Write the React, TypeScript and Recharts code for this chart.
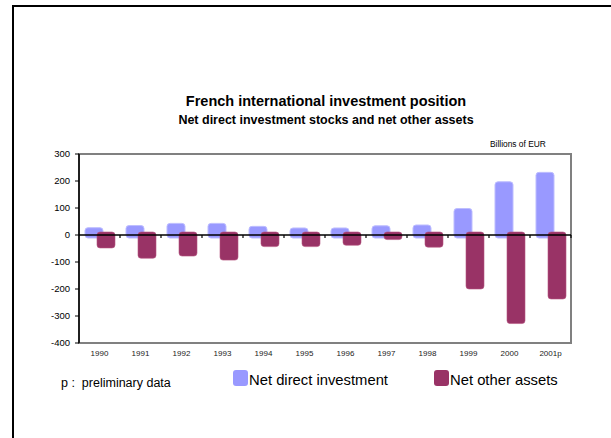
import React from 'react';
import { BarChart, Bar, XAxis, YAxis, ReferenceLine, ReferenceArea } from 'recharts';

const CATEGORIES = ['1990', '1991', '1992', '1993', '1994', '1995', '1996', '1997', '1998', '1999', '2000', '2001p'];
const NET_DIRECT = [27, 35, 43, 43, 32, 26, 26, 34, 37, 98, 197, 232];
const NET_OTHER = [-48, -86, -78, -93, -43, -43, -38, -17, -45, -200, -328, -237];
const Y_TICKS = [-400, -300, -200, -100, 0, 100, 200, 300];

const LIGHT = '#9999ff';
const MAROON = '#993366';
const FONT = '"Liberation Sans", Arial, sans-serif';

const data = CATEGORIES.map((year, i) => ({
  year,
  direct: NET_DIRECT[i],
  other: NET_OTHER[i],
}));

// bars poke a few px past the zero line, like the old Excel look
const DirectBar = (props: any) => {
  const { x, y, width, height } = props;
  const top = Math.min(y, y + height);
  const bottom = Math.max(y, y + height) + 3;
  return <rect x={x} y={top} width={width} height={bottom - top} rx={3} fill={LIGHT} stroke="#bdbdff" strokeWidth={1} />;
};

const OtherBar = (props: any) => {
  const { x, y, width, height } = props;
  const top = Math.min(y, y + height) - 3;
  const bottom = Math.max(y, y + height);
  return <rect x={x} y={top} width={width} height={bottom - top} rx={3} fill={MAROON} stroke="#b5557f" strokeWidth={0.6} />;
};

// zero line with small category ticks hanging below it
const ZeroLine = (props: any) => {
  const { x1, y1, x2 } = props;
  const step = (x2 - x1) / CATEGORIES.length;
  return (
    <g>
      <line x1={x1} y1={y1} x2={x2} y2={y1} stroke="#000" strokeWidth={1.5} />
      {CATEGORIES.map((c, i) => (
        <line key={c} x1={x1 + step * (i + 1)} y1={y1} x2={x1 + step * (i + 1)} y2={y1 + 3} stroke="#000" strokeWidth={1.2} />
      ))}
    </g>
  );
};

export default function App() {
  return (
    <div style={{ position: 'absolute', left: 0, top: 0, width: 611, height: 438, overflow: 'hidden', background: '#fff', fontFamily: FONT }}>
      <div style={{ position: 'absolute', left: 12, top: 5, width: 620, height: 450, borderLeft: '2px solid #000', borderTop: '2px solid #000' }} />

      <div style={{ position: 'absolute', left: 0, width: 652, top: 92, lineHeight: '18px', fontSize: 14.5, fontWeight: 'bold', textAlign: 'center', color: '#000' }}>
        French international investment position
      </div>
      <div style={{ position: 'absolute', left: 0, width: 652, top: 112, lineHeight: '16px', fontSize: 12.5, fontWeight: 'bold', textAlign: 'center', color: '#000' }}>
        Net direct investment stocks and net other assets
      </div>
      <div style={{ position: 'absolute', left: 490, top: 139, lineHeight: '10px', fontSize: 8.4, color: '#000' }}>
        Billions of EUR
      </div>

      <div style={{ position: 'absolute', left: 0, top: 0 }}>
        <BarChart
          width={611}
          height={438}
          data={data}
          margin={{ top: 154, right: 40, bottom: 65, left: 0 }}
          barSize={18}
          barGap={-6}
        >
          <ReferenceArea y1={-400} y2={300} fill="none" stroke="#808080" strokeWidth={2} ifOverflow="visible" />
          <XAxis
            dataKey="year"
            height={30}
            axisLine={false}
            tickLine={false}
            tickSize={0}
            tickMargin={7}
            interval={0}
            tick={{ fontSize: 8, fill: '#222', fontFamily: FONT }}
          />
          <YAxis
            width={79}
            domain={[-400, 300]}
            ticks={Y_TICKS}
            interval={0}
            axisLine={{ stroke: '#000', strokeWidth: 1.5 }}
            tickLine={{ stroke: '#000' }}
            tickSize={4}
            tickMargin={5}
            tick={{ fontSize: 9.5, fill: '#000', fontFamily: FONT }}
          />
          <Bar dataKey="direct" name="Net direct investment" fill={LIGHT} shape={DirectBar} isAnimationActive={false} />
          <Bar dataKey="other" name="Net other assets" fill={MAROON} shape={OtherBar} isAnimationActive={false} />
          <ReferenceLine y={0} shape={ZeroLine} ifOverflow="visible" />
        </BarChart>
      </div>

      <div style={{ position: 'absolute', left: 61, top: 375, lineHeight: '16px', fontSize: 12.5, color: '#000' }}>
        p :&nbsp; preliminary data
      </div>
      <div style={{ position: 'absolute', left: 233, top: 370, width: 15, height: 16, borderRadius: 3, background: LIGHT }} />
      <div style={{ position: 'absolute', left: 249, top: 371, lineHeight: '18px', fontSize: 14.8, color: '#000', whiteSpace: 'nowrap' }}>
        Net direct investment
      </div>
      <div style={{ position: 'absolute', left: 434, top: 370, width: 15, height: 16, borderRadius: 3, background: MAROON }} />
      <div style={{ position: 'absolute', left: 450, top: 371, lineHeight: '18px', fontSize: 14.8, color: '#000', whiteSpace: 'nowrap' }}>
        Net other assets
      </div>
    </div>
  );
}
